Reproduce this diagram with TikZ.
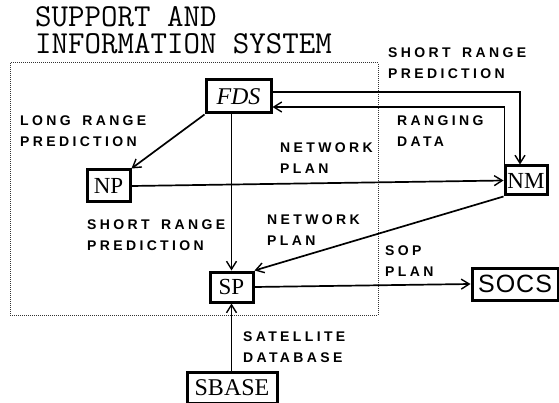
\documentclass[tikz,border=0pt]{standalone}
\usepackage{fontspec}
\usetikzlibrary{arrows.meta}
\setmainfont{Liberation Serif}
\newfontfamily\lblfont[LetterSpace=24,WordSpace=1.6]{Liberation Sans Bold}
\newfontfamily\sansbox[LetterSpace=4]{Liberation Sans}
\newfontfamily\serifbox{Liberation Serif}
\begin{document}
\begin{tikzpicture}[x=1pt,y=-1pt,
  blk/.style={draw, line width=3pt, inner sep=0pt, font=\serifbox\fontsize{23}{23}\selectfont},
  conn/.style={line width=1.7pt, -{Straight Barb[length=8pt,width=10pt,line width=1.4pt]}},
  lbl/.style={anchor=north west, align=left, inner sep=0pt, font=\lblfont\fontsize{14}{20.5}\selectfont},
  ttl/.style={anchor=base west, align=left, inner sep=0pt, font=\ttfamily\fontsize{32}{26.5}\selectfont}]
\useasboundingbox (0,0) rectangle (559,403);
% dotted system boundary
\draw[line width=1pt, densely dotted, black!80] (10,63) rectangle (378,315);
% title
\node[ttl] (title) at (35,53.5) {SUPPORT AND\\INFORMATION SYSTEM};
% boxes
\node[blk, minimum width=65pt, minimum height=33pt, font=\serifbox\itshape\fontsize{24}{24}\selectfont] (FDS) at (238.5,96.5) {FDS};
\node[blk, minimum width=43pt, minimum height=32pt] (NP) at (108.5,186) {NP};
\node[blk, minimum width=42pt, minimum height=29pt] (NM) at (526,180.5) {NM};
\node[blk, minimum width=43pt, minimum height=30pt] (SP) at (231.5,287) {SP};
\node[blk, minimum width=90pt, minimum height=31pt, font=\serifbox\fontsize{24}{24}\selectfont] (SBASE) at (232,387.5) {SBASE};
\node[blk, minimum width=86pt, minimum height=32pt, font=\sansbox\fontsize{25}{25}\selectfont] (SOCS) at (515,284) {SOCS};
% labels
\node[lbl] (l1) at (388,48) {SHORT RANGE\\PREDICTION};
\node[lbl] (l2) at (20,116) {LONG RANGE\\PREDICTION};
\node[lbl] (l3) at (397,116) {RANGING\\DATA};
\node[lbl] (l4) at (280,143) {NETWORK\\PLAN};
\node[lbl] (l5) at (87,220) {SHORT RANGE\\PREDICTION};
\node[lbl] (l6) at (267,215) {NETWORK\\PLAN};
\node[lbl] (l7) at (385,246) {SOP\\PLAN};
\node[lbl] (l8) at (243,332) {SATELLITE\\DATABASE};
% connectors
\draw[conn] (FDS.south west) -- (NP.north east);
\draw[conn] (FDS.south -| SP.north) -- (SP.north);
\draw[conn] (NP.east) -- (NM.west);
\draw[conn] (NM.south west) -- (SP.north east);
\draw[conn] (SP.east) -- (SOCS.west);
\draw[conn] (SBASE.north -| SP.south) -- (SP.south);
\draw[conn] ([yshift=4.5pt]FDS.east) -| ([xshift=-6pt]NM.north);
\draw[conn] ([xshift=1pt]NM.north west) |- ([yshift=-10.5pt]FDS.east);
\end{tikzpicture}
\end{document}
